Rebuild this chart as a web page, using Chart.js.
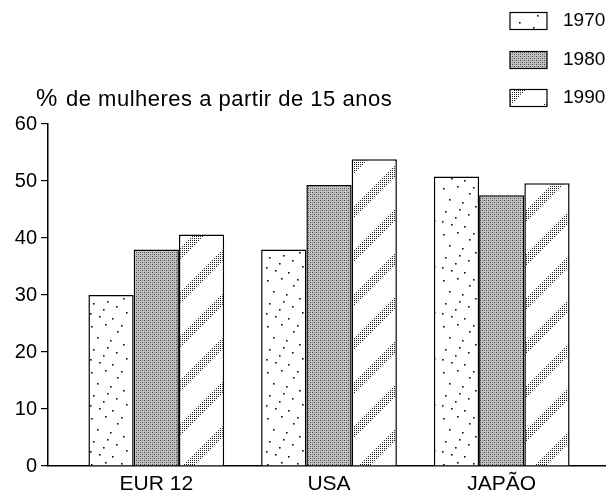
<!DOCTYPE html>
<html><head><meta charset="utf-8">
<script src="https://cdn.jsdelivr.net/npm/chart.js@4"></script>
<style>html,body{margin:0;padding:0;background:#fff}#wrap{width:611px;height:497px}</style>
</head><body><div id="wrap"><canvas id="c" width="611" height="497"></canvas></div>
<script>
const categories = ["EUR 12", "USA", "JAPÃO"];
const seriesNames = ["1970", "1980", "1990"];
const values1970 = [30, 38, 50.8];
const values1980 = [38, 49.3, 47.5];
const values1990 = [40.6, 53.8, 49.6];
const yTicks = [0, 10, 20, 30, 40, 50, 60];
const axisTitle = "de mulheres a partir de 15 anos";
const FONT = '"Liberation Sans", Arial, Helvetica, sans-serif';

function tile(w, h, draw){const c=document.createElement('canvas');c.width=w;c.height=h;const g=c.getContext('2d');g.fillStyle='#fff';g.fillRect(0,0,w,h);draw(g);return g.createPattern(c,'repeat');}
const dots=[[3,4],[17,2],[29,9],[9,15],[22,18],[35,22],[5,27],[15,33],[28,30],[38,36],[11,40],[24,42],[33,3],[19,25],[2,37]];
const p1970=tile(44,46,g=>{g.fillStyle='#111';dots.forEach(d=>g.fillRect(d[0],d[1],1.6,1.6));});
const p1980=tile(4,4,g=>{g.fillStyle='#c4c4c4';g.fillRect(0,0,4,4);g.fillStyle='#444';g.fillRect(0,0,1,1);g.fillRect(2,2,1,1);g.fillStyle='#808080';g.fillRect(2,0,1,1);g.fillRect(0,2,1,1);});
const p1990=tile(44,44,g=>{g.fillStyle='#222';for(let y=0;y<44;y++){for(let x=0;x<44;x++){const off=(x+y)%44; if(off>=31 && off<44 && ((x+y)%2===0) && (y%2===0)){g.fillRect(x,y,1,1);}}}});

const titlePlugin={id:'deco',afterDraw(chart){const g=chart.ctx;g.save();g.fillStyle='#000';g.textBaseline='alphabetic';
 g.font='24px '+FONT;g.fillText('%',36,106);
 g.font='22px '+FONT;g.letterSpacing='0.5px';g.fillText(axisTitle,66,106);g.letterSpacing='0px';
 const pats=[p1970,p1980,p1990];const ys=[21,60,98];
 for(let i=0;i<3;i++){g.fillStyle=pats[i];g.fillRect(510,ys[i]-8.5,37,17);g.strokeStyle='#000';g.lineWidth=1.2;g.strokeRect(510,ys[i]-8.5,37,17);
  g.fillStyle='#000';g.font='19px '+FONT;g.textBaseline='middle';g.fillText(seriesNames[i],563,ys[i]);}
 g.restore();}};

const toPts=a=>a.map((v,i)=>({x:i,y:v}));
new Chart(document.getElementById('c'),{type:'bar',
 data:{datasets:[
  {label:seriesNames[0],data:toPts(values1970),backgroundColor:p1970,borderColor:'#000',borderWidth:1.5},
  {label:seriesNames[1],data:toPts(values1980),backgroundColor:p1980,borderColor:'#000',borderWidth:1.5},
  {label:seriesNames[2],data:toPts(values1990),backgroundColor:p1990,borderColor:'#000',borderWidth:1.5}]},
 options:{responsive:false,animation:false,devicePixelRatio:1,
  layout:{padding:{top:124,right:6,left:0,bottom:0}},
  datasets:{bar:{categoryPercentage:0.786,barPercentage:1}},
  plugins:{legend:{display:false},tooltip:{enabled:false}},
  scales:{
   x:{type:'linear',min:-0.627,max:2.598,offset:false,
      afterBuildTicks(s){s.ticks=categories.map((c,i)=>({value:i}));},
      grid:{display:false,drawTicks:false},border:{color:'#000',width:1.5},
      ticks:{color:'#000',font:{size:21,family:FONT},padding:6,autoSkip:false,maxRotation:0,callback:v=>categories[v]},
      afterFit(s){s.height=31;}},
   y:{min:0,max:60,afterBuildTicks(s){s.ticks=yTicks.map(v=>({value:v}));},
      grid:{display:true,drawOnChartArea:false,tickLength:7,color:'#000',lineWidth:1.2},
      border:{color:'#000',width:1.5},
      ticks:{color:'#000',font:{size:20,family:FONT},padding:4},
      afterFit(s){s.width=48;}}}},
 plugins:[titlePlugin]});
</script></body></html>
